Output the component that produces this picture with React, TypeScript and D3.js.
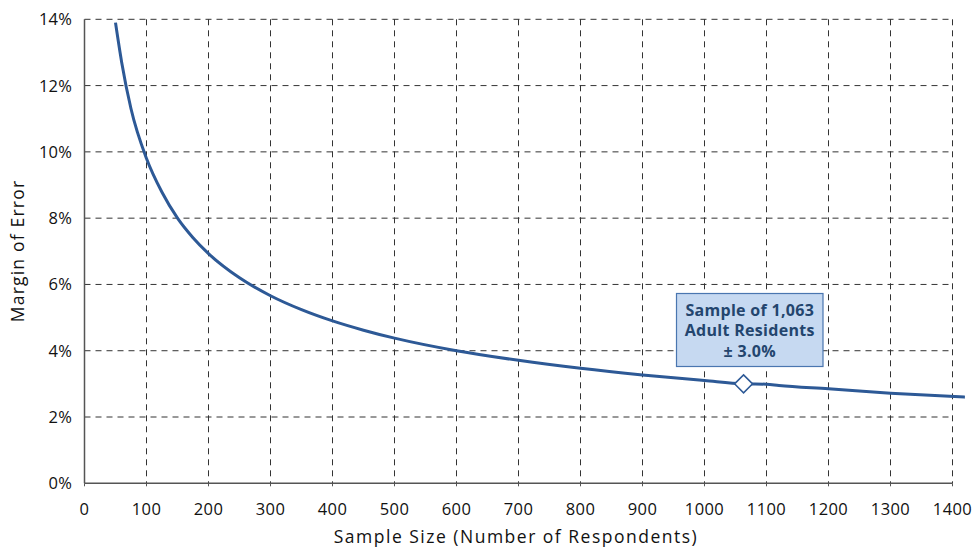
import React from "react";
import * as d3 from "d3";

const sampleSizes = [50, 60, 75, 100, 125, 150, 175, 200, 250, 300, 350, 400, 450, 500, 600, 700, 800, 900, 1000, 1063, 1100, 1120, 1200, 1300, 1420];
const marginValues = [13.9, 12.7, 11.3, 9.8, 8.78, 8.0, 7.41, 6.93, 6.2, 5.66, 5.24, 4.9, 4.62, 4.38, 4.0, 3.71, 3.47, 3.27, 3.1, 3.0, 2.99, 2.95, 2.85, 2.72, 2.6];
const xTicks = [0, 100, 200, 300, 400, 500, 600, 700, 800, 900, 1000, 1100, 1200, 1300, 1400];
const yTicks = [0, 2, 4, 6, 8, 10, 12, 14];
const highlightN = [1063];
const highlightMoe = [3.0];
const calloutLines = ["Sample of 1,063", "Adult Residents", "± 3.0%"];
const xTitle = "Sample Size (Number of Respondents)";
const yTitle = "Margin of Error";

const W = 975;
const H = 548;
const L = 84.5;
const R = 952.5;
const T = 19.3;
const B = 483.3;
const FONT = "'Open Sans', sans-serif";

export default function App() {
  const x = d3.scaleLinear().domain([0, 1400]).range([L, R]);
  const y = d3.scaleLinear().domain([0, 14]).range([B, T]);
  const pts = sampleSizes.map((n, i) => [n, marginValues[i]] as [number, number]);
  const line = d3
    .line<[number, number]>()
    .x((d) => x(d[0]))
    .y((d) => y(d[1]))
    .curve(d3.curveMonotoneX);
  const hx = x(highlightN[0]);
  const hy = y(highlightMoe[0]);
  const dm = 9;
  const boxX = 676.5;
  const boxY = 293.5;
  const boxW = 146.5;
  const boxH = 73;
  return (
    <svg width={W} height={H} style={{ position: "absolute", left: 0, top: 0, background: "#fff" }} fontFamily={FONT}>
      <defs>
        <clipPath id="plotclip">
          <rect x={L} y={0} width={W - L} height={B} />
        </clipPath>
      </defs>
      {xTicks.filter((t) => t > 0).map((t) => (
        <line key={"gx" + t} x1={x(t)} x2={x(t)} y1={T} y2={B} stroke="#333" strokeWidth={1} strokeDasharray="6,5" />
      ))}
      {yTicks.filter((t) => t > 0).map((t) => (
        <line key={"gy" + t} x1={L} x2={R} y1={y(t)} y2={y(t)} stroke="#333" strokeWidth={1} strokeDasharray="6,5" />
      ))}
      <line x1={L} x2={L} y1={T} y2={B} stroke="#555" strokeWidth={1.5} />
      <line x1={L} x2={R} y1={B} y2={B} stroke="#555" strokeWidth={1.5} />
      {xTicks.map((t) => (
        <line key={"tx" + t} x1={x(t)} x2={x(t)} y1={B} y2={B + 3} stroke="#555" strokeWidth={1} />
      ))}
      {xTicks.map((t) => (
        <text key={"lx" + t} x={x(t)} y={515} textAnchor="middle" fontSize={16.5} letterSpacing={0.4} fill="#111">
          {t}
        </text>
      ))}
      {yTicks.map((t) => (
        <text key={"ly" + t} x={72} y={y(t) + 6} textAnchor="end" fontSize={16.5} letterSpacing={0.2} fill="#111">
          {t + "%"}
        </text>
      ))}
      <text x={516} y={543} textAnchor="middle" fontSize={17.5} letterSpacing={1.5} fill="#111">
        {xTitle}
      </text>
      <text transform={`translate(24,251) rotate(-90)`} textAnchor="middle" fontSize={17.5} letterSpacing={1.2} fill="#111">
        {yTitle}
      </text>
      <path d={line(pts) || ""} fill="none" stroke="#2d5996" strokeWidth={3} clipPath="url(#plotclip)" />
      <path
        d={`M${hx},${hy - dm}L${hx + dm},${hy}L${hx},${hy + dm}L${hx - dm},${hy}Z`}
        fill="#fff"
        stroke="#2d5996"
        strokeWidth={1.5}
      />
      <rect x={boxX} y={boxY} width={boxW} height={boxH} fill="#c6d9f1" stroke="#4a76b0" strokeWidth={1.2} />
      {calloutLines.map((s, i) => (
        <text key={"c" + i} x={boxX + boxW / 2} y={boxY + 22 + i * 20.5} textAnchor="middle" fontSize={16} fontWeight="bold" letterSpacing={0.3} fill="#23456e">
          {s}
        </text>
      ))}
    </svg>
  );
}
